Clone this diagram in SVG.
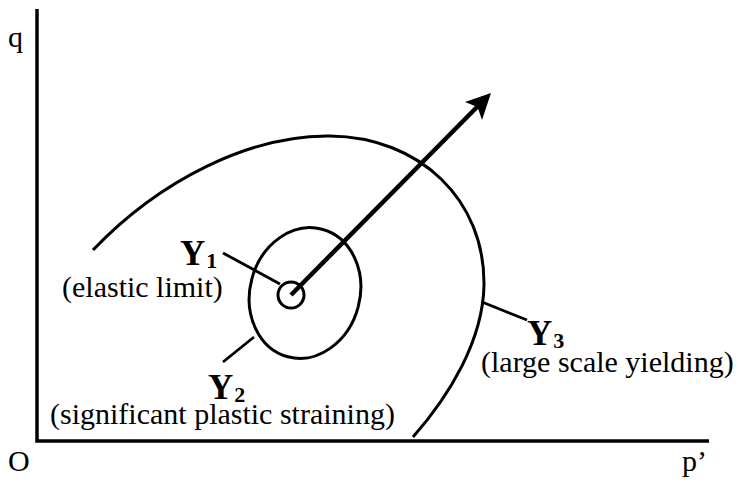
<svg xmlns="http://www.w3.org/2000/svg" width="743" height="491" viewBox="0 0 743 491">
<style>
  .ax { stroke: #000; stroke-width: 3.5; fill: none; }
  .crv { stroke: #000; stroke-width: 3; fill: none; }
  .ldr { stroke: #000; stroke-width: 2.8; fill: none; stroke-linecap: butt; }
  text { font-family: "Liberation Serif", "Times New Roman", Times, serif; fill: #000; }
  .t { font-size: 30px; }
  .y { font-size: 35px; font-weight: bold; }
  .s { font-size: 22px; font-weight: bold; }
</style>
<rect width="743" height="491" fill="#fff"/>
<g id="axes">
  <path class="ax" d="M37,9 V441 H709"/>
  <text class="t" x="8" y="47">q</text>
  <text class="t" x="8" y="471">O</text>
  <text class="t" x="682" y="471">p’</text>
</g>
<g id="Y3">
  <path class="crv" d="M93,250 C160,180 250,135 330,136 C420,137 485,200 484,285 C483,340 450,395 413,437"/>
</g>
<g id="Y2">
  <ellipse class="crv" cx="305" cy="293" rx="55" ry="66" transform="rotate(15 305 293)"/>
</g>
<g id="Y1">
  <circle class="crv" cx="291" cy="295" r="13"/>
</g>
<g id="connectors">
  <line x1="291" y1="295" x2="478" y2="106" stroke="#000" stroke-width="4.5"/>
  <polygon points="491,93 482,120 477.5,107 465,102" fill="#000"/>
  <line class="ldr" x1="223" y1="253" x2="280" y2="284"/>
  <line class="ldr" x1="223" y1="362" x2="254" y2="337"/>
  <line class="ldr" x1="482" y1="302" x2="527" y2="320"/>
</g>
<g id="labels">
  <text class="y" x="180" y="265">Y<tspan class="s" dx="1" dy="3">1</tspan></text>
  <text class="t" x="62" y="297">(elastic limit)</text>
  <text class="y" x="208" y="399">Y<tspan class="s" dx="1" dy="3">2</tspan></text>
  <text class="t" x="50" y="424">(significant plastic straining)</text>
  <text class="y" x="527" y="345">Y<tspan class="s" dx="1" dy="3">3</tspan></text>
  <text class="t" x="481" y="372">(large scale yielding)</text>
</g>
</svg>
